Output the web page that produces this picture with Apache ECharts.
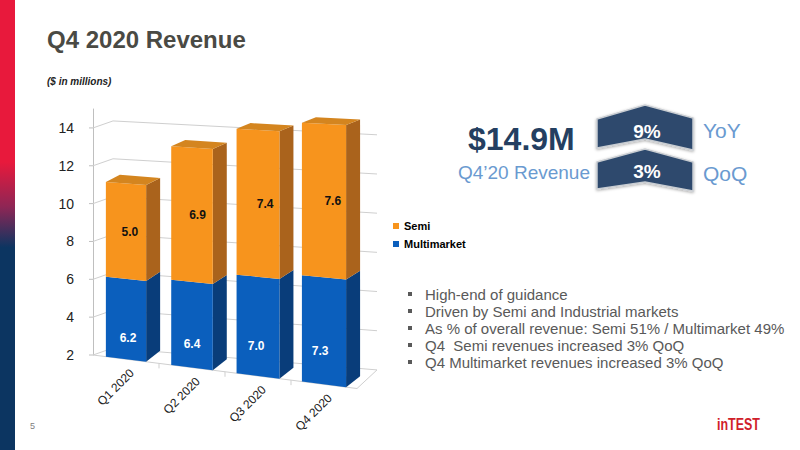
<!DOCTYPE html>
<html><head><meta charset="utf-8">
<script src="https://cdn.jsdelivr.net/npm/echarts@6/dist/echarts.min.js"></script>
<style>html,body{margin:0;padding:0;background:#fff}#c{width:800px;height:450px}</style>
</head><body><div id="c"></div>
<script>
// ---- data ----
const categories = ['Q1 2020', 'Q2 2020', 'Q3 2020', 'Q4 2020'];
const semi = [5.0, 6.9, 7.4, 7.6];
const multimarket = [6.2, 6.4, 7.0, 7.3];
const yTicks = [2, 4, 6, 8, 10, 12, 14];
const yMin = 2, yMax = 15, yStep = 2;
const seriesNames = ['Semi', 'Multimarket'];
const bullets = [
  'High-end of guidance',
  'Driven by Semi and Industrial markets',
  'As % of overall revenue: Semi 51% / Multimarket 49%',
  'Q4\u00a0 Semi revenues increased 3% QoQ',
  'Q4 Multimarket revenues increased 3% QoQ'
];
const headline = '$14.9M';
const headlineSub = 'Q4\u201920 Revenue';
const yoy = '9%', qoq = '3%';

// ---- perspective helpers (style) ----
const FONT = '"Liberation Sans", Arial, sans-serif';
const G = 0.00029, K0 = 0.127, GB = 0.000134, KB = 0.083, BX = 20, BY = -7, DX = 14;
function yAt(api, v) { return api.coord([0, v])[1]; }
function lift(api, v) { const y0 = yAt(api, yMin); return Math.max(0, y0 - yAt(api, Math.max(v, yMin))); }
function frontY(cs, api, x, v) { const y0 = yAt(api, yMin); const d = lift(api, v); const t = x - cs.x; return y0 - d * (1 + G * t) + K0 * t; }
function backY(cs, api, x, v) { const y0 = yAt(api, yMin); const d = lift(api, v); const t = x - cs.x; return y0 + BY - d * (1 + GB * t) + KB * t; }
function depthDy(api, v) { return -11 + 0.0225 * lift(api, v); }

function barRenderer(colors, isTop, labelColor, labelDx, withCat) {
  return function (params, api) {
    const cs = params.coordSys;
    const i = api.value(0), lo = api.value(1), hi = api.value(2), val = api.value(3);
    const c = api.coord([i, yMin])[0];
    const band = api.size([1, 0])[0];
    const t = c - cs.x;
    const hw = band * 0.3 * (1 + 0.0005 * t);
    const xl = c - hw, xr = c + hw;
    const yl0 = frontY(cs, api, xl, lo), yr0 = frontY(cs, api, xr, lo);
    const yl1 = frontY(cs, api, xl, hi), yr1 = frontY(cs, api, xr, hi);
    const d0 = depthDy(api, lo), d1 = depthDy(api, hi);
    const ch = [];
    ch.push({ type: 'polygon', shape: { points: [[xr, yr0], [xr, yr1], [xr + DX, yr1 + d1], [xr + DX, yr0 + d0]] }, style: { fill: colors.side } });
    ch.push({ type: 'polygon', shape: { points: [[xl, yl0], [xr, yr0], [xr, yr1], [xl, yl1]] }, style: { fill: colors.front } });
    if (isTop) {
      ch.push({ type: 'polygon', shape: { points: [[xl, yl1], [xr, yr1], [xr + DX, yr1 + d1], [xl + DX, yl1 + d1]] }, style: { fill: colors.top } });
    }
    const lx = c + labelDx(t);
    const ly = frontY(cs, api, lx, (lo + hi) / 2);
    ch.push({ type: 'text', x: lx, y: ly, style: { text: val.toFixed(1), fill: labelColor, font: 'bold 12px ' + FONT, align: 'center', verticalAlign: 'middle' } });
    if (withCat) {
      const ax = c + 6;
      const ay = frontY(cs, api, ax, yMin) + 11;
      ch.push({ type: 'text', x: ax, y: ay, rotation: Math.PI / 4, style: { x: 0, y: 0, text: categories[i], fill: '#222', font: '12px ' + FONT, align: 'right', verticalAlign: 'middle' } });
    }
    return { type: 'group', children: ch };
  };
}

function wallRenderer(params, api) {
  const cs = params.coordSys;
  const v = api.value(1);
  const gx = cs.x, gw = cs.width;
  const line = (x1, y1, x2, y2) => ({ type: 'line', shape: { x1, y1, x2, y2 }, style: { stroke: '#CFCFCF', lineWidth: 1 } });
  const ch = [];
  const fy = frontY(cs, api, gx, v);
  ch.push({ type: 'line', shape: { x1: gx - 4, y1: fy, x2: gx, y2: fy }, style: { stroke: '#BFBFBF', lineWidth: 1 } });
  ch.push(line(gx, fy, gx + BX, backY(cs, api, gx, v)));
  ch.push(line(gx + BX, backY(cs, api, gx, v), gx + gw + BX, backY(cs, api, gx + gw, v)));
  if (v === yMin) {
    const fr = frontY(cs, api, gx + gw, v);
    ch.push(line(gx, fy, gx + gw, fr));
    ch.push(line(gx + gw, fr, gx + gw + BX, backY(cs, api, gx + gw, v)));
    const band = api.size([1, 0])[0];
    for (let k = 1; k < categories.length; k++) {
      const x = gx + k * band;
      const y = frontY(cs, api, x, v);
      ch.push(line(x, y, x, y + 5));
    }
  }
  return { type: 'group', children: ch };
}

const orange = { front: '#F7941D', side: '#AA631C', top: '#D4851F' };
const blue = { front: '#0B5FBD', side: '#093D7A' };

const mmData = multimarket.map((v, i) => [i, 0, v, v]);
const semiData = semi.map((v, i) => [i, multimarket[i], multimarket[i] + v, v]);

const txt = (x, y, text, font, fill, align) => ({ type: 'text', x, y, silent: true, style: { text, font, fill, align: align || 'left', verticalAlign: 'middle' } });

const graphics = [
  { type: 'rect', shape: { x: 0, y: 0, width: 15, height: 450 }, style: { fill: new echarts.graphic.LinearGradient(0, 0, 0, 1, [
    { offset: 0, color: '#E8193C' }, { offset: 0.36, color: '#E8193C' }, { offset: 0.46, color: '#8E2655' }, { offset: 0.55, color: '#0C3561' }, { offset: 1, color: '#0C3561' }]) } },
  txt(47, 39, 'Q4 2020 Revenue', 'bold 24px ' + FONT, '#4A4A44'),
  txt(47, 81, '($ in millions)', 'italic bold 10px ' + FONT, '#222'),
  txt(468, 139, headline, 'bold 32px ' + FONT, '#243F61'),
  txt(590, 172, headlineSub, '19px ' + FONT, '#6A9AD0', 'right'),
  { type: 'polygon', shape: { points: [[597, 119], [645, 105], [693, 118], [693, 150], [645, 139], [597, 148]] }, style: { fill: '#2E4A6D', stroke: '#C9CDD2', lineWidth: 1.5, shadowBlur: 3, shadowColor: 'rgba(0,0,0,0.35)', shadowOffsetY: 1 } },
  { type: 'polygon', shape: { points: [[597, 162], [645, 149], [693, 162], [693, 191], [645, 182], [597, 189]] }, style: { fill: '#2E4A6D', stroke: '#C9CDD2', lineWidth: 1.5, shadowBlur: 3, shadowColor: 'rgba(0,0,0,0.35)', shadowOffsetY: 1 } },
  txt(647, 131, yoy, 'bold 19px ' + FONT, '#FFFFFF', 'center'),
  txt(647, 171, qoq, 'bold 19px ' + FONT, '#FFFFFF', 'center'),
  txt(703, 130, 'YoY', '21px ' + FONT, '#6A9AD0'),
  txt(703, 173, 'QoQ', '21px ' + FONT, '#6A9AD0'),
  txt(30, 426, '5', '9px ' + FONT, '#808080'),
  { type: 'text', x: 717, y: 424, scaleX: 0.78, silent: true, style: { text: 'inTEST', font: 'bold 16px ' + FONT, fill: '#D0202A', align: 'left', verticalAlign: 'middle' } }
];
bullets.forEach((b, k) => {
  const y = 294 + k * 17;
  graphics.push({ type: 'rect', shape: { x: 408, y: y - 2, width: 4, height: 4 }, style: { fill: '#595959' } });
  graphics.push(txt(425, y, b, '15px ' + FONT, '#595959'));
});

const chart = echarts.init(document.getElementById('c'), null, { renderer: 'svg' });
chart.setOption({
  animation: false,
  backgroundColor: '#fff',
  textStyle: { fontFamily: FONT },
  grid: { left: 93, top: 109, width: 264, height: 246, containLabel: false },
  xAxis: { type: 'category', data: categories, show: false },
  yAxis: {
    type: 'value', min: yMin, max: yMax, interval: yStep,
    axisLine: { show: true, lineStyle: { color: '#BFBFBF' } },
    axisTick: { show: false },
    splitLine: { show: false },
    axisLabel: { margin: 19, fontSize: 14, color: '#222', fontFamily: FONT, formatter: v => (yTicks.indexOf(v) >= 0 ? String(v) : '') }
  },
  legend: {
    data: seriesNames, orient: 'vertical', left: 388, top: 215, icon: 'rect', itemWidth: 6, itemHeight: 6, itemGap: 6,
    textStyle: { fontSize: 11, fontWeight: 'bold', color: '#000', fontFamily: FONT, lineHeight: 12 }
  },
  graphic: graphics,
  series: [
    { type: 'custom', name: 'walls', coordinateSystem: 'cartesian2d', clip: false, z: 1, silent: true,
      data: yTicks.map(v => [0, v]), encode: { x: 0, y: 1 }, renderItem: wallRenderer },
    { type: 'custom', name: 'Multimarket', coordinateSystem: 'cartesian2d', clip: false, z: 3,
      itemStyle: { color: blue.front }, data: mmData, encode: { x: 0, y: [1, 2] },
      renderItem: barRenderer(blue, false, '#FFFFFF', t => 3 - 0.03 * t, true) },
    { type: 'custom', name: 'Semi', coordinateSystem: 'cartesian2d', clip: false, z: 3,
      itemStyle: { color: orange.front }, data: semiData, encode: { x: 0, y: [1, 2] },
      renderItem: barRenderer(orange, true, '#111111', t => 3 + 0.025 * t, false) }
  ]
});
</script>
</body></html>
